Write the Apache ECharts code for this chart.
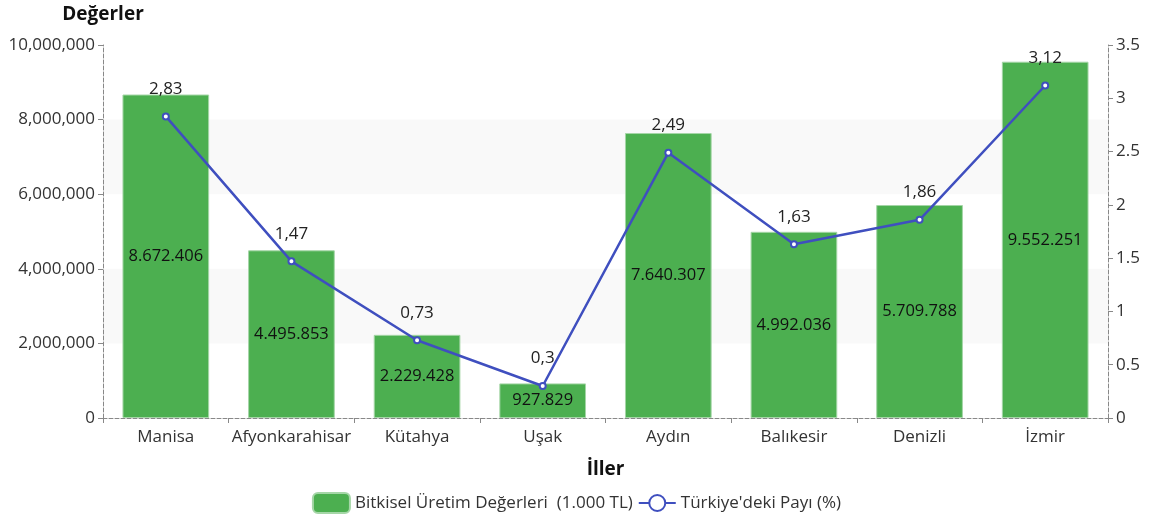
<!DOCTYPE html>
<html>
<head>
  <meta charset="UTF-8">
  <script src="https://cdn.jsdelivr.net/npm/echarts@6/dist/echarts.min.js"></script>
  <style>
    html, body { margin: 0; padding: 0; background: #fff; }
    #main { width: 1153px; height: 519px; }
  </style>
</head>
<body>
  <div id="main"></div>
  <script>
    // veriler
    var iller = ['Manisa', 'Afyonkarahisar', 'Kütahya', 'Uşak', 'Aydın', 'Balıkesir', 'Denizli', 'İzmir'];
    var uretimDegerleri = [8672406, 4495853, 2229428, 927829, 7640307, 4992036, 5709788, 9552251];
    var turkiyePayi = [2.83, 1.47, 0.73, 0.3, 2.49, 1.63, 1.86, 3.12];

    var fontAile = '"Open Sans", "Noto Sans", sans-serif';
    var eksenCizgi = { show: true, lineStyle: { color: '#888', type: 'dashed', width: 1 } };

    var myChart = echarts.init(document.getElementById('main'));
    myChart.setOption({
      textStyle: { fontFamily: fontAile },
      grid: { left: 103, right: 45, top: 45, bottom: 101 },
      legend: {
        top: 487,
        left: 'center',
        itemWidth: 37,
        itemHeight: 20,
        itemGap: 5,
        textStyle: { fontSize: 17, color: '#333' },
        data: ['Bitkisel Üretim Değerleri  (1.000 TL)', "Türkiye'deki Payı (%)"]
      },
      xAxis: {
        type: 'category',
        data: iller,
        name: 'İller',
        nameLocation: 'middle',
        nameGap: 42,
        nameTextStyle: { fontSize: 19, fontWeight: 'bold', color: '#111' },
        axisLine: eksenCizgi,
        axisTick: { show: true, lineStyle: { color: '#888' } },
        axisLabel: { fontSize: 17, color: '#333', margin: 11, interval: 0 }
      },
      yAxis: [
        {
          type: 'value',
          min: 0, max: 10000000, interval: 2000000,
          name: 'Değerler',
          nameGap: 21,
          nameTextStyle: { fontSize: 19, fontWeight: 'bold', color: '#111', align: 'center' },
          axisLine: eksenCizgi,
          axisTick: { show: true, lineStyle: { color: '#888' } },
          axisLabel: {
            fontSize: 17, color: '#333',
            formatter: function (v) { return v.toLocaleString('en-US'); }
          },
          splitLine: { show: false },
          splitArea: { show: true, areaStyle: { color: ['rgba(255,255,255,0)', 'rgba(245,245,245,0.6)'] } }
        },
        {
          type: 'value',
          min: 0, max: 3.5, interval: 0.5,
          axisLine: eksenCizgi,
          axisTick: { show: true, lineStyle: { color: '#888' } },
          axisLabel: { fontSize: 17, color: '#333' },
          splitLine: { show: false }
        }
      ],
      series: [
        {
          name: 'Bitkisel Üretim Değerleri  (1.000 TL)',
          type: 'bar',
          data: uretimDegerleri,
          barWidth: '69%',
          itemStyle: { color: '#4caf50', borderColor: '#a5d6a7', borderWidth: 1 },
          label: {
            show: true,
            position: 'inside',
            fontSize: 16.5,
            color: '#111',
            formatter: function (p) { return p.value.toLocaleString('de-DE'); }
          }
        },
        {
          name: "Türkiye'deki Payı (%)",
          type: 'line',
          yAxisIndex: 1,
          data: turkiyePayi,
          symbol: 'emptyCircle',
          symbolSize: 6,
          lineStyle: { color: '#3f4fbf', width: 2.5 },
          itemStyle: { color: '#3f4fbf', borderWidth: 2 },
          label: {
            show: true,
            position: 'top',
            distance: 15,
            fontSize: 17,
            color: '#222',
            formatter: function (p) { return String(p.value).replace('.', ','); }
          }
        }
      ]
    });
  </script>
</body>
</html>
